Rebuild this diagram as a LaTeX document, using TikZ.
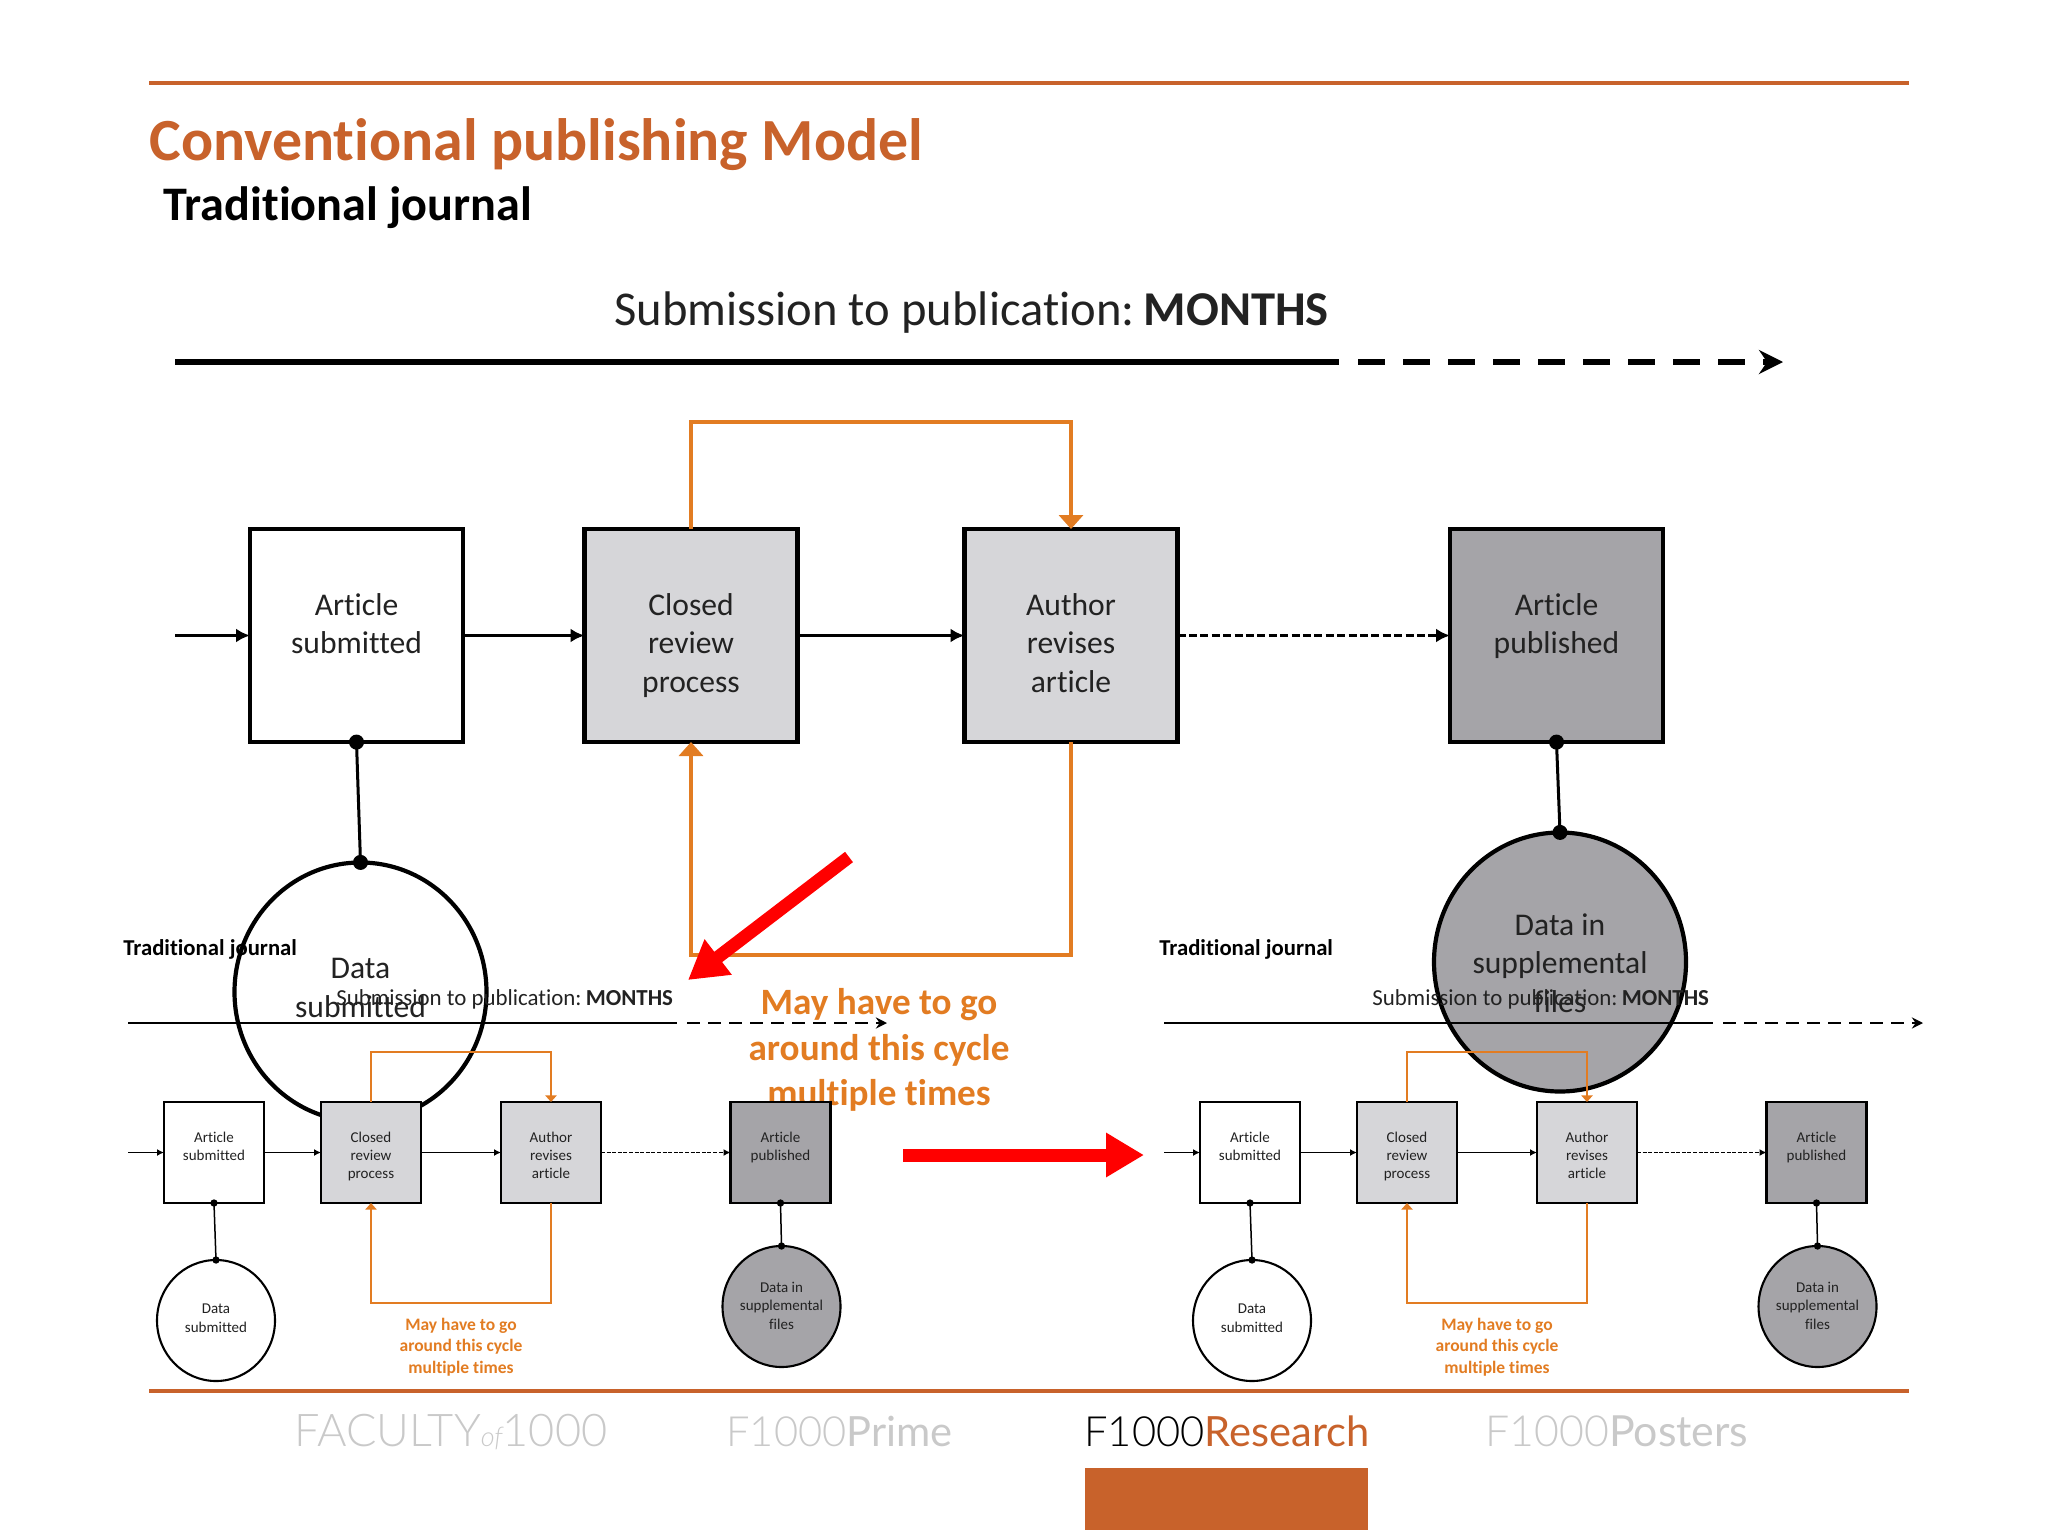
\documentclass[tikz,border=0pt]{standalone}
\usepackage{fontspec}
\usepackage{graphicx}
\setmainfont{Carlito}[RawFeature=-liga]
\newfontfamily\logolight{Lato}[UprightFont=* Light,BoldFont=*]
\usetikzlibrary{arrows.meta,shapes.geometric}
\definecolor{rulecol}{HTML}{C8622B}
\definecolor{loopcol}{HTML}{E27C22}
\definecolor{lightbox}{HTML}{D6D6D9}
\definecolor{darkbox}{HTML}{A5A4A8}
\definecolor{logogray}{HTML}{C9C9C9}
\definecolor{ink}{HTML}{222222}
\tikzset{
  x=0.5pt,y=-0.5pt,
  rulebar/.style={rulecol,line width=2pt},
  bigbox/.style={draw=black,line width=2.1pt,minimum width=106.5pt,minimum height=106.5pt,inner sep=0pt,outer sep=0pt},
  smallbox/.style={draw=black,line width=1.05pt,minimum width=50pt,minimum height=50.5pt,inner sep=0pt,outer sep=0pt},
  bigell/.style={draw=black,line width=2.1pt,ellipse,minimum width=126pt,minimum height=129.5pt,inner sep=0pt,outer sep=0pt},
  smallell/.style={draw=black,line width=1.05pt,ellipse,minimum width=59pt,minimum height=60.5pt,inner sep=0pt,outer sep=0pt},
  biglab/.style={font=\fontsize{15.8}{19.3}\selectfont,align=center,text=ink,inner sep=0pt,execute at begin node=\strut,execute at end node=\strut},
  smalllab/.style={font=\fontsize{7.5}{9.1}\selectfont,align=center,text=ink,inner sep=0pt,execute at begin node=\strut,execute at end node=\strut},
  bigflow/.style={line width=1.7pt,-{Latex[length=7pt,width=7pt]}},
  smallflow/.style={line width=0.8pt,-{Latex[length=3.5pt,width=3.5pt]}},
  bigdash/.style={bigflow,dash pattern=on 4pt off 1.7pt},
  smalldash/.style={smallflow,dash pattern=on 2pt off 0.8pt},
  bigloop/.style={loopcol,line width=1.7pt,-{Triangle[length=7pt,width=12pt]}},
  smallloop/.style={loopcol,line width=0.8pt,-{Triangle[length=3.3pt,width=5.6pt]}},
  bigstem/.style={line width=1.5pt,{Circle[length=7.5pt]}-{Circle[length=7.5pt]},shorten <=-3.7pt,shorten >=-3.7pt},
  smallstem/.style={line width=0.75pt,{Circle[length=3.6pt]}-{Circle[length=3.6pt]},shorten <=-1.8pt,shorten >=-1.8pt},
  bigtime/.style={line width=2.7pt},
  bigtimedash/.style={line width=2.7pt,dash pattern=on 13.5pt off 9pt,-{Stealth[length=12pt,width=12pt,inset=4pt]}},
  smalltime/.style={line width=1.25pt},
  smalltimedash/.style={line width=1.25pt,dash pattern=on 6.3pt off 4.2pt,-{Stealth[length=5.6pt,width=5.6pt,inset=1.9pt]}},
  redarrow/.style={red,line width=6.5pt,-{Triangle[length=19pt,width=21pt]}},
  plain/.style={inner sep=0pt,anchor=base west},
  mid/.style={inner sep=0pt,anchor=center,align=center},
}
\newcommand{\timetext}{Submission to publication:\hspace{0.18em}\textbf{MONTHS}}
\newcommand{\smalljournal}{%
  \node[plain,font=\fontsize{11.35}{12}\selectfont\bfseries] (title) at (123,955) {Traditional journal};
  \node[plain,font=\fontsize{11.45}{12}\selectfont,text=ink] (time) at (336,1005) {\timetext};
  \coordinate (t0) at (128,1023); \coordinate (t1) at (677,1023);
  \coordinate (t2) at (687,1023); \coordinate (t3) at (887,1023);
  \draw[smalltime] (t0) -- (t1);
  \draw[smalltimedash] (t2) -- (t3);
  \node[smallbox,fill=white,label={[smalllab,yshift=-2.7pt]center:Article\\submitted\\\phantom{x}}] (a) at (214,1152.5) {};
  \node[smallbox,fill=lightbox,label={[smalllab,yshift=-2.7pt]center:Closed\\review\\process}] (b) at (371,1152.5) {};
  \node[smallbox,fill=lightbox,label={[smalllab,yshift=-2.7pt]center:Author\\revises\\article}] (c) at (551,1152.5) {};
  \node[smallbox,fill=darkbox,label={[smalllab,yshift=-2.7pt]center:Article\\published\\\phantom{x}}] (d) at (780.5,1152.5) {};
  \node[smallell,fill=white,label={[smalllab,yshift=-0.2pt]center:Data\\submitted}] (e) at (216,1320.5) {};
  \node[smallell,fill=darkbox,label={[smalllab,yshift=-1pt]center:Data in\\supplemental\\files}] (f) at (781.5,1306.5) {};
  \coordinate (s) at (128,1152.5);
  \draw[smallflow] (s) -- (a);
  \draw[smallflow] (a) -- (b);
  \draw[smallflow] (b) -- (c);
  \draw[smalldash] (c) -- (d);
  \draw[smallloop] (b.north) |- (461,1052) -| (c.north);
  \draw[smallloop] (c.south) |- (461,1303) -| (b.south);
  \draw[smallstem] (a.south) -- (e.north);
  \draw[smallstem] (d.south) -- (f.north);
  \node[mid,font=\fontsize{8.75}{10.8}\selectfont\bfseries,text=loopcol] (note) at (461,1347) {May have to go\\around this cycle\\multiple times};
}
\begin{document}
\begin{tikzpicture}
\useasboundingbox (0,0) rectangle (2048,1530);
% frame of the slide
\coordinate (r0) at (149,83); \coordinate (r1) at (1909,83);
\draw[rulebar] (r0) -- (r1);
\coordinate (r2) at (149,1391); \coordinate (r3) at (1909,1391);
\draw[rulebar] (r2) -- (r3);
\node[plain,font=\fontsize{29.9}{32}\selectfont\bfseries,text=rulecol] (slidetitle) at (149,161) {Conventional publishing Model};
% the large picture pasted on the slide
\node[plain,font=\fontsize{24.1}{26}\selectfont\bfseries] (bigtitle) at (163,220.5) {Traditional journal};
\node[plain,font=\fontsize{24.3}{26}\selectfont,text=ink] (bigtimetext) at (614,325) {\timetext};
\coordinate (T0) at (175,362); \coordinate (T1) at (1339,362);
\coordinate (T2) at (1358,362); \coordinate (T3) at (1783,362);
\draw[bigtime] (T0) -- (T1);
\draw[bigtimedash] (T2) -- (T3);
\node[bigbox,fill=white,label={[biglab,yshift=-6.5pt]center:Article\\submitted\\\phantom{x}}] (A) at (356.5,635.5) {};
\node[bigbox,fill=lightbox,label={[biglab,yshift=-6.5pt]center:Closed\\review\\process}] (B) at (691,635.5) {};
\node[bigbox,fill=lightbox,label={[biglab,yshift=-6.5pt]center:Author\\revises\\article}] (C) at (1071,635.5) {};
\node[bigbox,fill=darkbox,label={[biglab,yshift=-6.5pt]center:Article\\published\\\phantom{x}}] (D) at (1556.5,635.5) {};
\node[bigell,fill=white,label={[biglab,yshift=-0.8pt]center:Data\\submitted}] (E) at (360.5,992) {};
\node[bigell,fill=darkbox,label={[biglab,yshift=-3.3pt]center:Data in\\supplemental\\files}] (F) at (1560,962) {};
\coordinate (S) at (175,635.5);
\draw[bigflow] (S) -- (A);
\draw[bigflow] (A) -- (B);
\draw[bigflow] (B) -- (C);
\draw[bigdash] (C) -- (D);
\draw[bigloop] (B.north) |- (881,422) -| (C.north);
\draw[bigloop] (C.south) |- (881,955) -| (B.south);
\draw[bigstem] (A.south) -- (E.north);
\draw[bigstem] (D.south) -- (F.north);
\node[mid,font=\fontsize{18.6}{22.6}\selectfont\bfseries,text=loopcol] (bignote) at (879,1050) {May have to go\\around this cycle\\multiple times};
% red arrows
\coordinate (u0) at (849,857); \coordinate (u1) at (688,980);
\draw[redarrow] (u0) -- (u1);
\coordinate (v0) at (903,1155); \coordinate (v1) at (1144,1155);
\draw[redarrow] (v0) -- (v1);
% the two small copies
\begin{scope}[name prefix=L-]
\smalljournal
\end{scope}
\begin{scope}[xshift=518pt,name prefix=R-]
\smalljournal
\end{scope}
% footer logos
\node[mid,anchor=base west,text=logogray] (l1) at (294,1446) {\resizebox{156.5pt}{!}{\logolight FACULTY{\fontsize{6}{6}\selectfont\itshape of}1000}};
\node[mid,anchor=base west,text=logogray] (l2) at (726,1446) {\resizebox{113pt}{!}{\logolight F1000\textbf{Prime}}};
\node[mid,anchor=base west] (l3) at (1084,1446) {\resizebox{142.5pt}{!}{\logolight F1000\textcolor{rulecol}{\textbf{Research}}}};
\node[mid,anchor=base west,text=logogray] (l4) at (1485,1446) {\resizebox{131.5pt}{!}{\logolight F1000\textbf{Posters}}};
\fill[rulecol] (1085,1468) rectangle (1368,1530);
\end{tikzpicture}
\end{document}
